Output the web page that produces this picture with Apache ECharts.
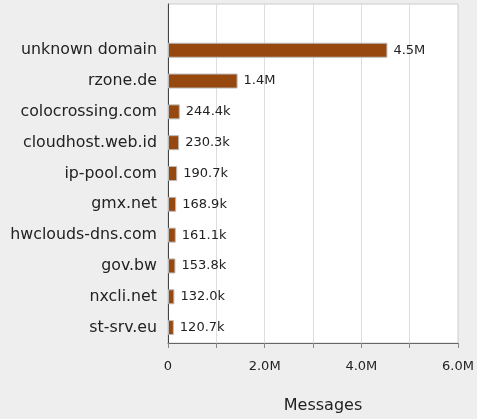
<!DOCTYPE html>
<html><head><meta charset="utf-8">
<script src="https://cdn.jsdelivr.net/npm/echarts@6/dist/echarts.min.js"></script>
<style>html,body{margin:0;padding:0;background:#eeeeee;}#c{width:477px;height:419px;}</style>
</head><body><div id="c"></div>
<script>
const categories = ["unknown domain","rzone.de","colocrossing.com","cloudhost.web.id","ip-pool.com","gmx.net","hwclouds-dns.com","gov.bw","nxcli.net","st-srv.eu"];
const values = [4540000,1440000,244400,230300,190700,168900,161100,153800,132000,120700];
const xTickLabels = {0:"0",2000000:"2.0M",4000000:"4.0M",6000000:"6.0M"};
const axisTitle = "Messages";

function fmt(v){ if(v>=1e6) return (v/1e6).toFixed(1)+"M"; if(v>=1e3) return (v/1e3).toFixed(1)+"k"; return String(v); }

const cats = [""].concat(categories);
const vals = [null].concat(values);
const chart = echarts.init(document.getElementById('c'), null, {renderer:'canvas'});
chart.setOption({
  backgroundColor:'#eeeeee',
  animation:false,
  textStyle:{fontFamily:'DejaVu Sans'},
  grid:{left:168,right:19,top:4,bottom:76,containLabel:false,outerBoundsMode:'none',show:true,backgroundColor:'#ffffff',borderColor:'#cccccc',borderWidth:1},
  xAxis:{type:'value',min:0,max:6000000,interval:1000000,
    name:axisTitle,nameLocation:'middle',nameGap:55,nameTextStyle:{fontSize:16,color:'#222',padding:[0,0,0,20]},
    axisLine:{show:true,lineStyle:{color:'#666'}},
    axisTick:{show:true,length:5,lineStyle:{color:'#888'}},
    axisLabel:{fontSize:13,color:'#222',margin:17,formatter:v=>xTickLabels[v]!==undefined?xTickLabels[v]:''},
    splitLine:{show:true,lineStyle:{color:'#dddddd'}}},
  yAxis:{type:'category',data:cats,inverse:true,
    axisLine:{show:true,lineStyle:{color:'#444'}},
    axisTick:{show:false},
    axisLabel:{fontSize:15.8,color:'#222',margin:11},
    splitLine:{show:false}},
  series:[{type:'bar',data:vals,barWidth:15,
    itemStyle:{color:'#97480f',borderColor:'#bbbbbb',borderWidth:1},
    label:{show:true,position:'right',distance:6,fontSize:13,color:'#222',formatter:p=>p.value==null?'':fmt(p.value)}}]
});
</script></body></html>
